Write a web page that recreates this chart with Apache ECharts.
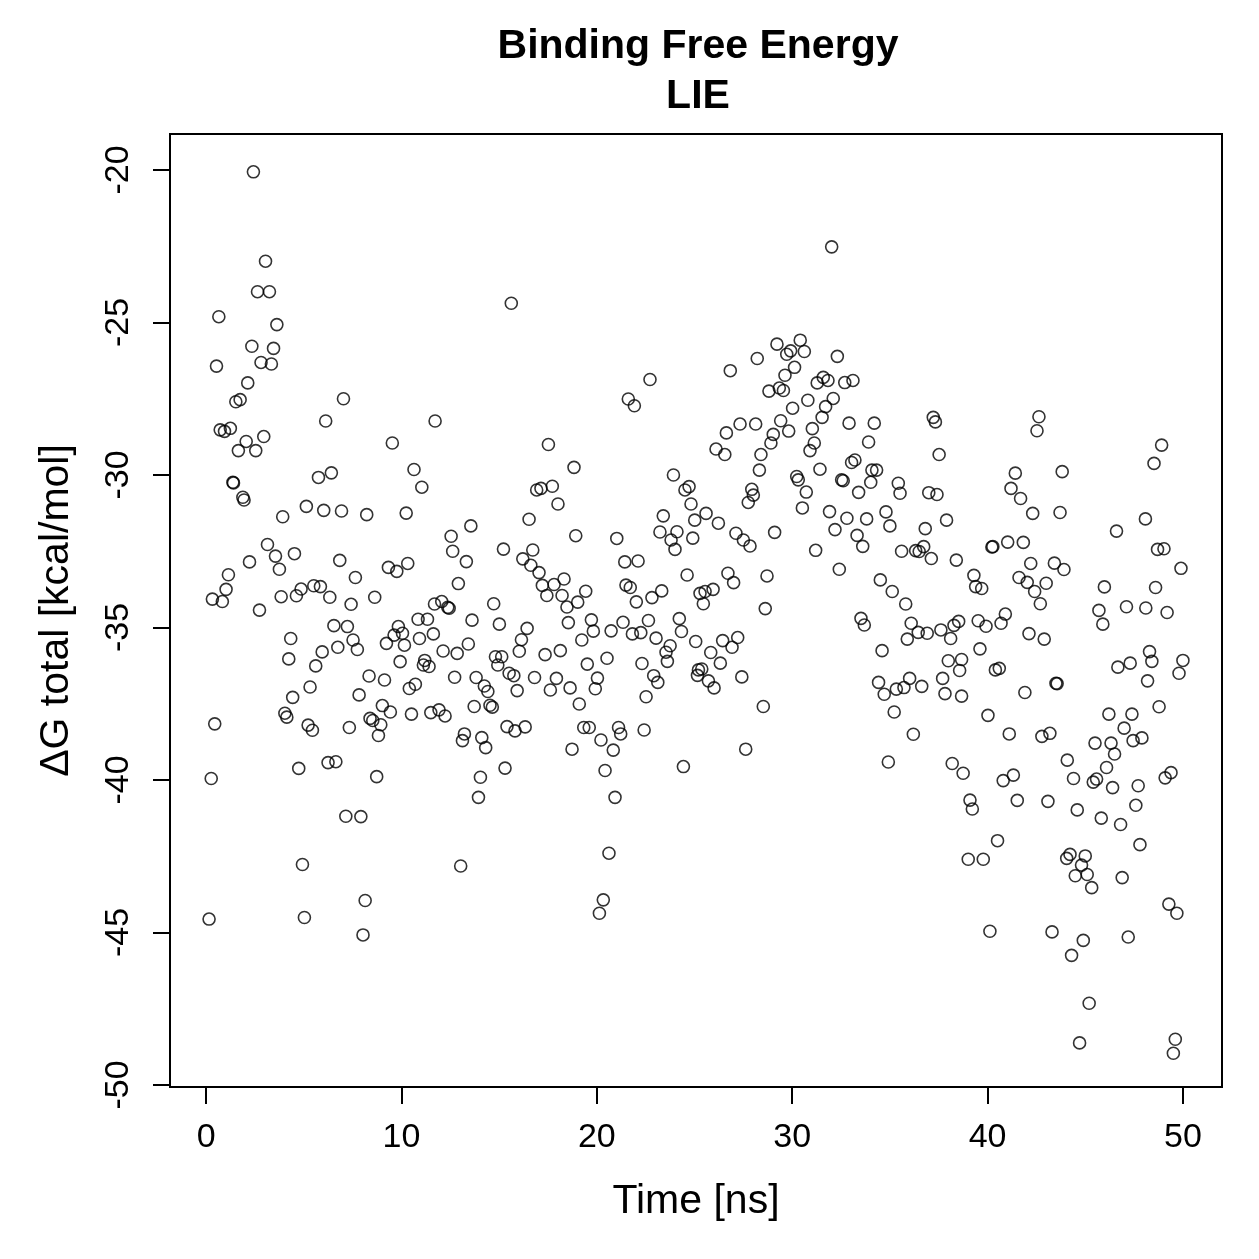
<!DOCTYPE html>
<html><head><meta charset="utf-8">
<script src="https://cdn.jsdelivr.net/npm/echarts@6/dist/echarts.min.js"></script>
<style>html,body{margin:0;padding:0;background:#fff}#c{width:1259px;height:1259px}</style>
</head><body><div id="c"></div>
<script>
const time = [
2.42,3.04,2.63,3.24,0.65,3.62,2.34,3.45,2.81,3.34,0.53,2.13,1.52,1.74,7.03,6.12,11.72,0.72,0.94,1.24,2.95,2.05,1.65,2.54,9.53,
1.37,1.40,1.88,1.94,5.75,6.41,10.64,11.04,5.13,3.92,6.02,6.93,8.22,10.24,3.14,3.55,2.22,4.52,3.75,6.84,7.64,9.33,9.76,10.32,1.14,1.02,0.32,0.83,2.73,3.84,4.62,4.86,5.51,5.85,6.33,7.42,8.63,11.69,6.54,7.23,10.85,11.33,9.84,10.05,9.62,9.23,10.15,10.92,11.63,4.33,7.52,7.74,6.74,5.94,4.23,5.61,9.93,11.19,11.12,11.41,8.34,9.13,10.71,10.40,5.32,4.43,7.83,9.02,9.43,10.51,11.50,4.03,4.13,0.44,5.22,5.44,7.33,8.39,8.53,8.94,8.82,4.74,6.24,6.64,0.26,8.73,
7.15,7.92,4.93,8.14,0.15,5.03,8.03,
15.62,22.72,21.61,21.92,17.52,
18.83,23.92,16.92,17.14,17.72,24.51,24.72,18.01,24.82,23.40,25.01,16.53,13.55,12.54,18.92,21.02,23.23,24.10,23.80,24.00,24.91,12.62,13.32,15.22,16.72,16.21,16.62,17.04,21.43,22.11,24.62,12.91,17.21,17.81,18.32,17.44,18.22,18.47,19.02,19.43,21.49,21.71,22.82,23.32,22.02,25.28,12.06,12.37,12.44,14.72,13.61,15.01,16.43,16.14,16.03,18.54,19.72,19.82,19.23,20.73,21.34,21.82,22.25,22.64,23.03,24.22,24.33,23.75,23.54,23.61,25.06,12.13,12.85,13.42,14.81,15.13,14.93,17.35,18.13,19.51,20.52,22.31,22.91,23.12,25.20,25.15,12.72,13.82,14.24,14.42,15.51,15.75,15.92,16.81,17.93,17.62,18.63,20.03,19.92,19.10,22.52,13.72,14.53,14.65,11.92,12.23,15.40,15.81,16.33,19.33,19.61,21.11,21.22,22.42,13.22,13.12,14.11,14.31,20.21,20.84,18.73,15.30,20.42,24.43,14.04,
13.94,20.93,13.03,20.62,20.33,20.13,
32.02,29.22,30.41,29.92,29.72,30.62,28.21,26.83,32.31,30.12,29.63,28.81,29.34,29.55,31.28,31.59,31.83,32.69,33.11,32.10,30.80,31.71,30.02,27.33,28.13,29.41,29.82,31.53,31.03,31.13,26.63,29.03,28.91,32.91,34.20,33.91,37.22,37.33,26.10,26.55,28.40,30.91,37.52,
28.32,33.04,33.21,34.08,34.32,34.02,31.42,30.23,30.31,32.53,32.61,30.72,33.40,35.43,35.52,36.99,37.41,27.93,28.01,27.75,30.52,31.91,32.80,33.81,34.80,35.00,37.90,36.81,25.59,26.22,27.12,27.50,27.84,29.10,32.19,33.32,33.61,31.20,35.60,36.32,36.50,36.73,37.12,38.40,32.41,26.71,27.00,28.71,25.95,25.54,25.45,28.62,34.51,35.12,35.81,33.52,33.69,36.09,36.45,36.91,35.89,37.61,38.11,38.28,38.52,34.60,37.99,38.67,38.57,26.44,27.21,26.92,25.83,26.32,25.37,25.71,26.00,27.42,28.52,27.62,34.42,34.71,35.33,35.72,36.01,36.63,37.70,37.82,38.67,35.22,36.20,34.92,38.19,38.75,
42.63,42.53,48.91,48.52,41.42,43.82,41.20,41.69,42.31,43.71,48.08,46.60,40.22,40.27,41.03,41.83,48.70,49.03,49.90,42.21,43.42,43.91,39.30,39.39,39.70,41.61,42.03,42.41,43.00,42.70,45.98,48.60,45.70,45.90,47.11,48.10,49.19,39.52,39.92,40.69,40.91,42.12,42.90,39.61,40.40,40.60,43.50,43.56,41.91,40.02,41.11,42.78,43.19,46.67,47.30,48.29,48.41,48.19,50.00,49.80,46.21,47.39,48.78,46.99,47.45,47.90,45.50,46.32,46.50,44.08,46.09,49.09,49.39,
40.80,41.32,44.40,45.41,45.58,46.40,47.71,39.10,39.22,41.52,43.09,44.59,45.82,46.81,47.59,47.80,40.51,39.01,39.78,44.05,44.22,45.00,44.81,44.49,45.10,45.33,46.89,49.28,49.69,40.12,43.30,44.90,44.30,47.20,45.20,44.71,49.61,49.51
];
const deltaG = [
-20.06,-22.99,-23.99,-23.99,-24.81,-25.07,-25.78,-25.85,-26.31,-26.36,-26.43,-26.98,-27.60,-27.53,-27.50,-28.23,-28.23,-28.52,-28.57,-28.47,-28.74,-28.90,-29.20,-29.20,-28.95,
-30.24,-30.26,-30.73,-30.82,-30.08,-29.93,-29.82,-30.40,-31.03,-31.37,-31.16,-31.18,-31.30,-31.25,-32.28,-32.66,-32.85,-32.58,-33.09,-32.80,-33.36,-33.03,-33.16,-32.90,-33.27,-33.75,-34.07,-34.15,-34.43,-33.99,-33.96,-33.74,-33.63,-33.66,-34.01,-34.24,-34.01,-34.23,-34.94,-34.97,-34.73,-34.73,-34.97,-35.19,-35.25,-35.52,-35.58,-35.36,-35.21,-35.36,-35.41,-35.72,-35.65,-35.80,-36.03,-36.26,-36.12,-36.08,-36.23,-36.28,-36.59,-36.72,-36.86,-37.00,-36.95,-37.29,-37.21,-37.56,-37.77,-37.84,-37.79,-37.81,-37.94,-38.16,-38.20,-38.37,-38.28,-37.98,-38.05,-38.19,-38.54,-39.62,-39.43,-39.40,-39.95,-39.89,
-41.19,-41.20,-42.77,-43.95,-44.56,-44.51,-45.08,
-24.37,-26.87,-27.51,-27.73,-29.00,
-29.75,-30.00,-30.49,-30.44,-30.37,-30.49,-30.38,-30.95,-30.95,-31.34,-31.48,-31.45,-31.67,-32.01,-31.99,-32.08,-31.87,-31.86,-32.13,-32.44,-32.07,-32.50,-32.84,-32.43,-32.46,-32.75,-32.96,-33.20,-32.85,-32.82,-33.28,-33.56,-33.62,-33.59,-33.41,-33.95,-33.95,-34.33,-34.17,-33.81,-33.61,-33.69,-34.02,-33.80,-34.16,-33.88,-34.15,-34.34,-34.37,-34.22,-34.76,-34.89,-35.03,-35.40,-35.78,-34.84,-34.75,-35.12,-35.41,-35.11,-34.83,-35.21,-35.17,-34.77,-35.35,-34.71,-35.13,-35.60,-35.81,-36.11,-35.46,-35.77,-35.85,-35.54,-35.96,-35.96,-36.23,-35.89,-35.76,-36.20,-36.01,-36.18,-36.58,-36.80,-36.39,-36.57,-36.63,-36.64,-36.92,-37.10,-36.50,-36.58,-37.07,-36.64,-36.67,-37.05,-36.98,-36.66,-37.01,-37.51,-37.27,-37.59,-37.55,-37.61,-37.70,-37.90,-38.25,-38.39,-38.26,-38.28,-38.28,-38.28,-38.49,-38.36,-38.49,-38.71,-38.61,-38.94,-38.69,-39.02,-38.99,-39.61,-39.69,-39.56,-39.91,
-40.57,-40.57,-42.82,-42.40,-43.93,-44.37,
-22.52,-25.71,-25.58,-25.93,-26.04,-25.95,-26.18,-26.58,-26.11,-26.47,-26.73,-27.25,-27.15,-27.23,-26.98,-26.80,-26.90,-26.97,-26.90,-27.49,-27.55,-27.76,-27.81,-28.33,-28.33,-28.22,-28.56,-28.11,-28.48,-28.95,-28.62,-28.67,-28.95,-28.30,-28.30,-28.92,-28.11,-28.26,-29.15,-29.33,-29.33,-29.20,-29.33,
-29.84,-29.59,-29.51,-29.84,-29.84,-30.24,-29.81,-30.05,-30.16,-30.16,-30.19,-30.56,-30.57,-30.27,-30.60,-30.58,-30.64,-30.47,-30.66,-30.90,-31.08,-31.20,-31.42,-31.44,-31.21,-31.67,-31.48,-31.76,-31.26,-31.58,-31.91,-32.13,-32.33,-31.88,-31.79,-31.98,-32.34,-32.47,-32.50,-32.48,-32.51,-32.35,-32.74,-32.79,-33.09,-33.22,-33.53,-33.31,-33.75,-33.82,-34.22,-34.38,-33.44,-33.82,-34.23,-34.70,-34.92,-34.86,-35.16,-35.19,-35.38,-35.08,-35.36,-34.93,-34.80,-35.76,-36.09,-36.05,-36.41,-35.43,-35.33,-35.65,-35.82,-36.17,-36.36,-36.75,-36.98,-36.62,-37.59,-38.99,-36.80,-37.19,-37.02,-36.97,-36.67,-36.93,-36.67,-37.17,-37.25,-37.77,-38.50,-39.41,-39.46,-39.78,
-28.09,-28.55,-29.02,-29.62,-29.94,-29.89,-30.44,-30.77,-31.26,-31.23,-31.44,-31.84,-32.36,-32.35,-32.20,-32.21,-32.44,-32.42,-33.06,-32.90,-32.89,-33.10,-33.29,-33.66,-33.72,-33.36,-33.52,-33.82,-33.55,-34.22,-33.67,-33.69,-34.44,-34.89,-34.32,-34.36,-34.51,-34.78,-34.96,-34.86,-34.56,-35.20,-35.38,-35.70,-36.39,-36.34,-36.83,-36.84,-37.13,-37.88,-38.49,-38.57,-38.47,-36.30,-36.17,-35.79,-36.11,-36.75,-36.08,-36.50,-37.84,-37.84,-37.60,-38.30,-38.71,-38.62,-38.79,-38.79,-39.15,-39.35,-39.59,-39.93,-39.76,
-40.02,-39.84,-39.95,-40.07,-39.97,-40.25,-40.19,-40.66,-40.95,-40.67,-40.70,-40.98,-41.25,-41.46,-40.83,-42.12,-41.99,-42.60,-42.60,-42.57,-42.44,-42.49,-42.79,-43.14,-43.10,-43.53,-43.20,-44.07,-44.37,-44.96,-44.98,-45.26,-45.75,-45.15,-47.32,-48.62,-48.50,-48.96
];
const xTicks = [0, 10, 20, 30, 40, 50];
const yTicks = [-50, -45, -40, -35, -30, -25, -20];
const titleLines = ['Binding Free Energy', 'LIE'];
const xName = 'Time [ns]';
const yName = 'ΔG total [kcal/mol]';

const pts = time.map((t, i) => [t, deltaG[i]]);
const FONT = '"Liberation Sans", Arial, Helvetica, sans-serif';
const chart = echarts.init(document.getElementById('c'), null, {renderer: 'canvas'});
chart.setOption({
  animation: false,
  backgroundColor: '#fff',
  title: {
    text: titleLines.join('\n'),
    left: 693, top: 17, textAlign: 'center',
    textStyle: {fontFamily: FONT, fontWeight: 'bold', fontSize: 41, lineHeight: 50, color: '#000'}
  },
  grid: {left: 170, right: 37, top: 134, bottom: 172, show: true, borderColor: '#000', borderWidth: 2, backgroundColor: 'transparent'},
  xAxis: {
    type: 'value', min: -1.85, max: 52.0,
    splitLine: {show: false},
    axisLine: {show: false, onZero: false},
    axisTick: {show: true, customValues: xTicks, length: 17, lineStyle: {color: '#000', width: 2}},
    axisLabel: {customValues: xTicks, margin: 34, fontFamily: FONT, fontSize: 34, color: '#000'},
    name: xName, nameLocation: 'middle', nameGap: 94,
    nameTextStyle: {fontFamily: FONT, fontSize: 41, color: '#000'}
  },
  yAxis: {
    type: 'value', min: -50.066, max: -18.82,
    splitLine: {show: false},
    axisLine: {show: false, onZero: false},
    axisTick: {show: true, customValues: yTicks, length: 17, lineStyle: {color: '#000', width: 2}},
    axisLabel: {customValues: yTicks, margin: 34, rotate: 90, fontFamily: FONT, fontSize: 34, color: '#000'},
    name: yName, nameLocation: 'middle', nameGap: 93,
    nameTextStyle: {fontFamily: FONT, fontSize: 41, color: '#000'}
  },
  series: [{
    type: 'scatter',
    data: pts,
    symbol: 'circle',
    symbolSize: 12,
    itemStyle: {color: 'rgba(0,0,0,0)', borderColor: '#000', borderWidth: 1.6},
    emphasis: {disabled: true}
  }]
});
</script></body></html>
